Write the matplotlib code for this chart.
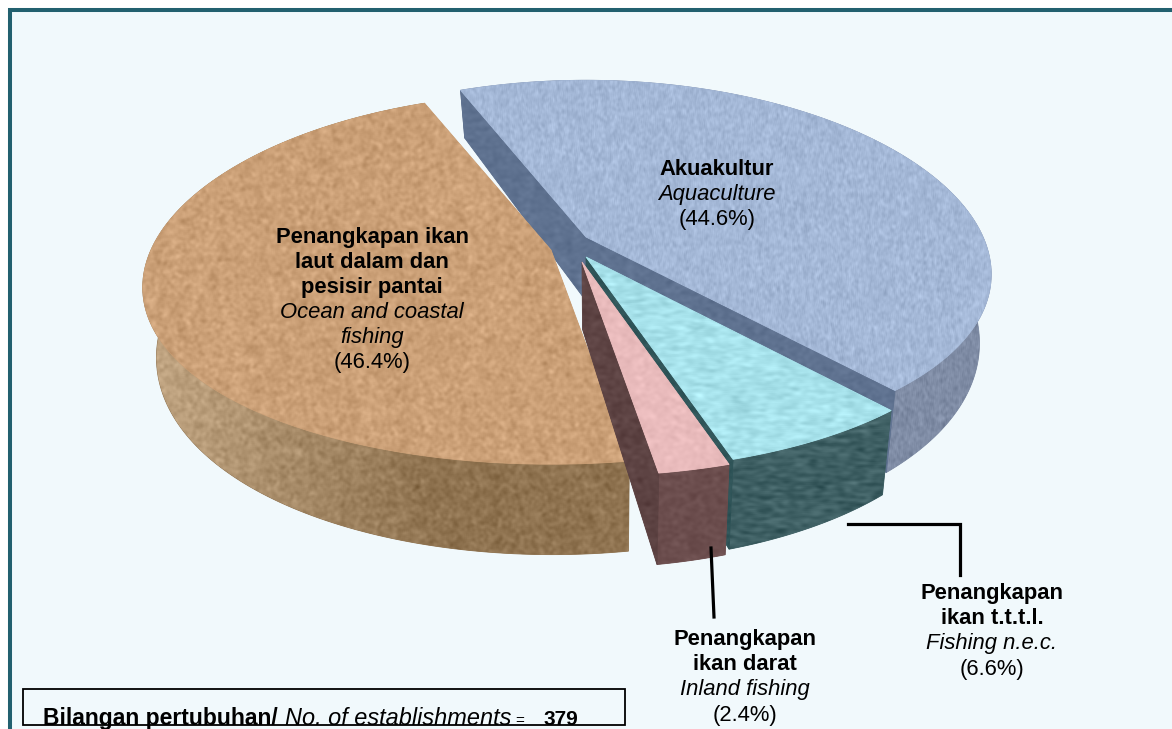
import numpy as np
import matplotlib
matplotlib.use("Agg")
import matplotlib.pyplot as plt
from matplotlib.patches import Polygon, Rectangle

# ---------- data ----------
categories = ["Akuakultur", "Penangkapan ikan t.t.t.l.", "Penangkapan ikan darat",
              "Penangkapan ikan laut dalam dan pesisir pantai"]
shares = [44.6, 6.6, 2.4, 46.4]
label_bold = ["Akuakultur", "Penangkapan\nikan t.t.t.l.", "Penangkapan\nikan darat",
              "Penangkapan ikan\nlaut dalam dan\npesisir pantai"]
label_italic = ["Aquaculture", "Fishing n.e.c.", "Inland fishing", "Ocean and coastal\nfishing"]
establishments = 379

# ---------- style / layout ----------
W, H = 1172, 729
BG = "#F1F9FC"
BORDER = "#22606F"
FONT = "Liberation Sans"
START_ANGLE = 112.0
KX, KY, RY = 0.20, 0.155, 181.0
VAN_X, X_SHRINK = 600.0, 0.97
H0, H1 = 37.5, 0.114

# per-slice geometry: tip (x, y), horizontal radius
tips = [(586, 237), (586, 257), (582, 262), (551, 250)]
radii = [397, 392, 392, 400]
top_tone = ["#A4B8D7", "#A6E1EA", "#E9BBBC", "#CBA077"]
outer_tone = ["#7F8CA5", "#3F6064", "#6C4E4E", "#8F7350"]
start_tone = ["#5F7290", "#2F5458", "#5D4343", "#8F7350"]
end_tone = ["#5F7290", "#2F5458", "#5D4343", "#8F7350"]
tex_kind = ["cloth", "water", "soft", "sand"]
label_pos = [(717, 169), (992, 594), (745, 640), (372, 237)]

fig = plt.figure(figsize=(W / 100, H / 100), dpi=100, facecolor="white")
ax = fig.add_axes([0, 0, 1, 1])
ax.set_xlim(0, W)
ax.set_ylim(H, 0)
ax.axis("off")

ax.add_patch(Rectangle((10, 10), W + 30, H + 30, fc=BG, ec=BORDER, lw=2.9, zorder=0))

# ---------- deterministic textures ----------
yy, xx = np.mgrid[0:H, 0:W].astype(float)


def hash_noise(a, b, seed):
    v = np.sin(a * 12.9898 + b * 78.233 + seed) * 43758.5453
    return v - np.floor(v)


def box(a, rx, ry):
    out = a.copy()
    for _ in range(rx):
        out = (out + np.roll(out, 1, 1) + np.roll(out, -1, 1)) / 3
    for _ in range(ry):
        out = (out + np.roll(out, 1, 0) + np.roll(out, -1, 0)) / 3
    return out


def unit(a):
    return (a - a.mean()) / a.std()


def texture(kind):
    if kind == "cloth":
        return unit(box(hash_noise(xx, yy, 1.0), 1, 3)) * 0.02
    if kind == "sand":
        return (unit(box(hash_noise(xx, yy, 2.0), 4, 4)) * 0.6
                + unit(box(hash_noise(xx, yy, 5.0), 2, 2)) * 0.4) * 0.032
    if kind == "water":
        n = box(hash_noise(xx, yy, 3.0), 14, 2)
        wave = np.sin(yy * 0.75 + 2 * np.sin(xx * 0.05)) * 0.35
        return (unit(n) + wave) * 0.024
    return unit(box(hash_noise(xx, yy, 4.0), 5, 3)) * 0.012


tex_cache = {k: texture(k) for k in set(tex_kind)}
# the ocean slice's wall gets lighter towards the far left
left_glow = np.clip((430 - xx) / 280, 0, 1) * 0.19


def project(angle, tip, rx):
    u, v = np.cos(np.radians(angle)), np.sin(np.radians(angle))
    x = tip[0] + rx * u / (1 + KX * v)
    y = tip[1] - RY * v / (1 + KY * v)
    return np.column_stack([x, y])


def drop(p):
    p = np.atleast_2d(p)
    return np.column_stack([VAN_X + (p[:, 0] - VAN_X) * X_SHRINK,
                            p[:, 1] + H0 + H1 * p[:, 1]])


def face(points, colour, kind, z, shade=None):
    poly = Polygon(points, closed=True, fc=colour, ec=colour, lw=0.6, zorder=z)
    ax.add_patch(poly)
    base = np.array(matplotlib.colors.to_rgb(colour))
    img = base[None, None, :] + tex_cache[kind][:, :, None]
    if shade is not None:
        img = img + shade[:, :, None]
    im = ax.imshow(np.clip(img, 0, 1), extent=(0, W, H, 0), zorder=z + 0.1,
                   interpolation="bilinear", aspect="auto")
    im.set_clip_path(Polygon(points, closed=True, transform=ax.transData))


edges = START_ANGLE - np.concatenate([[0], np.cumsum(shares[:3])]) * 3.6
# the last slice runs counter-clockwise from the start angle
spans = [(edges[0], edges[1]), (edges[1], edges[2]), (edges[2], edges[3]),
         (START_ANGLE + shares[3] * 3.6, START_ANGLE)]

order = [0, 3, 1, 2]
for rank, i in enumerate(order):
    a0, a1 = spans[i]
    ang = np.linspace(a0, a1, 160)
    arc = project(ang, tips[i], radii[i])
    tip = np.array(tips[i], float)
    z = 2 + rank * 2
    kind = tex_kind[i]
    # outer wall
    face(np.vstack([arc, drop(arc)[::-1]]), outer_tone[i], kind, z,
         shade=left_glow if i == 3 else None)
    # visible radial walls
    if i == 0:
        corner = arc[0:1]
        tip_b = drop(tip)
        face(np.vstack([corner, drop(corner), tip_b, tip]), start_tone[i], "soft", z + 0.3)
        corner = arc[-1:]
        face(np.vstack([tip, corner, drop(corner), tip_b]), end_tone[i], "soft", z + 0.3)
    elif i in (1, 2):
        corner = arc[-1:]
        face(np.vstack([tip, corner, drop(corner), drop(tip)]), end_tone[i], "soft", z + 0.3)
    # top
    face(np.vstack([tip, arc]), top_tone[i], kind, z + 0.6)

# ---------- leaders ----------
ax.plot([848, 960, 960], [524, 524, 575], color="black", lw=2.3, solid_joinstyle="miter", zorder=20)
ax.plot([711, 714], [548, 617], color="black", lw=2.3, zorder=20)

# ---------- labels ----------
LS = 25.0
FS = 15.8
for i in range(4):
    x, y = label_pos[i]
    row = 0
    for line in label_bold[i].split("\n"):
        ax.text(x, y + row * LS, line, ha="center", va="center", family=FONT,
                fontsize=FS, fontweight="bold", color="black", zorder=21)
        row += 1
    for line in label_italic[i].split("\n"):
        ax.text(x, y + row * LS, line, ha="center", va="center", family=FONT,
                fontsize=FS, fontstyle="italic", color="black", zorder=21)
        row += 1
    ax.text(x, y + row * LS, f"({shares[i]}%)", ha="center", va="center", family=FONT,
            fontsize=FS, color="black", zorder=21)

# ---------- establishments box ----------
ax.add_patch(Rectangle((22.5, 689), 602, 36, fc=BG, ec="black", lw=1.3, zorder=20))
ax.text(43, 725, "Bilangan pertubuhan/", family=FONT, fontsize=16.5, fontweight="bold",
        va="baseline", ha="left", zorder=21)
ax.text(285, 725, "No. of establishments", family=FONT, fontsize=16.9, fontstyle="italic",
        va="baseline", ha="left", zorder=21)
ax.text(515, 725, "=", family=FONT, fontsize=11, va="baseline", ha="left", zorder=21)
ax.text(543, 725, str(establishments), family=FONT, fontsize=15, fontweight="bold",
        va="baseline", ha="left", zorder=21)

fig.savefig("out.png", dpi=100, facecolor="white")
